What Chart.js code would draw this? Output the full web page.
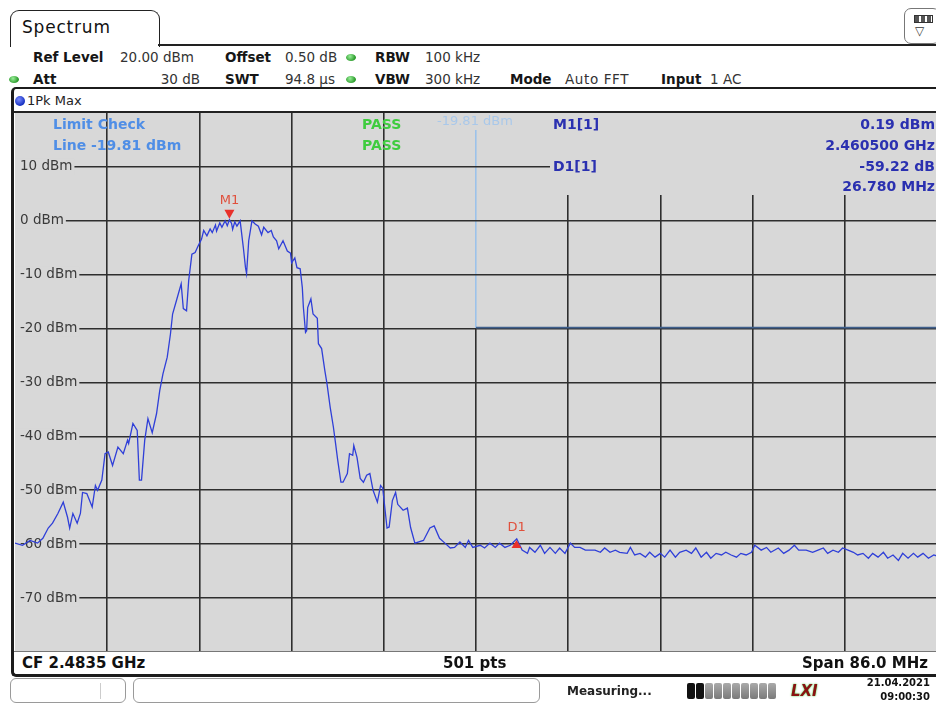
<!DOCTYPE html>
<html>
<head>
<meta charset="utf-8">
<script src="https://cdn.jsdelivr.net/npm/chart.js@4.4.1/dist/chart.umd.min.js"></script>
<style>
  html, body { margin: 0; padding: 0; background: #fff; }
  #screen { position: relative; width: 936px; height: 704px; overflow: hidden; background: #fff;
    font-family: "DejaVu Sans", Verdana, sans-serif; color: #333; }
  .t { position: absolute; white-space: nowrap; line-height: 16px; font-size: 13.5px; }
  .b { font-weight: bold; color: #161616; }
  .line { position: absolute; background: #222; }
  .dot { position: absolute; width: 10px; height: 7px; border-radius: 50%;
    background: radial-gradient(circle at 40% 35%, #9e9, #2a9a2a 70%); }
  #tab { position: absolute; left: 10px; top: 10px; width: 148px; height: 36px; border: 1.5px solid #222;
    border-bottom: none; border-radius: 9px 9px 0 0; background: #fff; }
  #frame { position: absolute; left: 11px; top: 87px; width: 940px; height: 590px; box-sizing: border-box;
    border: 3px solid #1c1c1c; border-top-width: 2px; border-right: none; border-radius: 5px 0 0 5px; }
  #plot { position: absolute; left: 15px; top: 113px; width: 922px; height: 539px; background: #d8d8d8; }
  .lim { color: #4f8ee6; font-weight: bold; font-size: 14px; }
  .pass { color: #3fcc3f; font-weight: bold; font-size: 14px; }
  .mk { color: #2a30b0; font-weight: bold; font-size: 14px; }
  .box { position: absolute; top: 678px; height: 25px; box-sizing: border-box; border: 1px solid #9a9a9a;
    border-radius: 6px; background: #fff; }
  .seg { display: inline-block; width: 8px; height: 16px; margin-right: 1px; border-radius: 2px;
    background: linear-gradient(#aaa, #7a7a7a); }
</style>
</head>
<body>
<div id="screen">
  <!-- tab + header -->
  <div id="tab"></div>
  <div class="t" style="left:22px;top:17px;font-size:17px;line-height:20px;color:#111;letter-spacing:0.8px">Spectrum</div>
  <div class="line" style="left:158px;top:44px;width:780px;height:2px"></div>
  <div style="position:absolute;left:904px;top:8px;width:36px;height:36px;box-sizing:border-box;border:1.5px solid #777;border-radius:7px;background:#fff"></div>
  <div style="position:absolute;left:914px;top:15px;width:17px;height:6px;border:1.5px solid #333;background:repeating-linear-gradient(90deg,#555 0 4px,#fff 4px 6px)"></div>
  <div class="t" style="left:915px;top:23px;font-size:12px;color:#333">▽</div>

  <div class="t b" style="left:33px;top:49px">Ref Level</div>
  <div class="t" style="left:120px;top:49px">20.00 dBm</div>
  <div class="t b" style="left:225px;top:49px">Offset</div>
  <div class="t" style="left:285px;top:49px">0.50 dB</div>
  <div class="dot" style="left:346px;top:54px"></div>
  <div class="t b" style="left:375px;top:49px">RBW</div>
  <div class="t" style="left:425px;top:49px">100 kHz</div>

  <div class="dot" style="left:9px;top:76px"></div>
  <div class="t b" style="left:33px;top:71px">Att</div>
  <div class="t" style="right:736px;top:71px">30 dB</div>
  <div class="t b" style="left:225px;top:71px">SWT</div>
  <div class="t" style="left:285px;top:71px">94.8 µs</div>
  <div class="dot" style="left:346px;top:76px"></div>
  <div class="t b" style="left:375px;top:71px">VBW</div>
  <div class="t" style="left:425px;top:71px">300 kHz</div>
  <div class="t b" style="left:510px;top:71px">Mode</div>
  <div class="t" style="left:565px;top:71px;letter-spacing:0.6px">Auto FFT</div>
  <div class="t b" style="left:661px;top:71px">Input</div>
  <div class="t" style="left:710px;top:71px">1 AC</div>

  <!-- diagram frame -->
  <div id="frame"></div>
  <div style="position:absolute;left:15px;top:96px;width:10px;height:10px;border-radius:50%;background:radial-gradient(circle at 40% 35%,#7b8cff,#1530c0 70%)"></div>
  <div class="t" style="left:27px;top:93px;font-size:13px;color:#222">1Pk Max</div>
  <div class="line" style="left:14px;top:111px;width:924px;height:2px"></div>

  <div id="plot"><canvas id="spec"></canvas></div>

  <!-- limit / marker annotations -->
  <div class="t lim" style="left:53px;top:116px">Limit Check</div>
  <div class="t lim" style="left:53px;top:137px">Line -19.81 dBm</div>
  <div class="t pass" style="left:362px;top:116px">PASS</div>
  <div class="t pass" style="left:362px;top:137px">PASS</div>
  <div class="t" style="left:432px;top:113px;width:90px;height:17px;background:#d8d8d8;color:#a9c8ea;font-size:13px;padding-left:5px;box-sizing:border-box">-19.81 dBm</div>
  <div style="position:absolute;left:550px;top:113px;width:390px;height:82px;background:#d8d8d8"></div>
  <div class="t mk" style="left:553px;top:116px">M1[1]</div>
  <div class="t mk" style="left:553px;top:158px">D1[1]</div>
  <div class="t mk" style="right:1px;top:116px">0.19 dBm</div>
  <div class="t mk" style="right:1px;top:137px">2.460500 GHz</div>
  <div class="t mk" style="right:1px;top:158px">-59.22 dB</div>
  <div class="t mk" style="right:1px;top:178px">26.780 MHz</div>

  <!-- footer -->
  <div style="position:absolute;left:14px;top:651px;width:924px;height:1px;background:#777"></div>
  <div class="t b" style="left:22px;top:654px;font-size:15px;line-height:18px;color:#111">CF 2.4835 GHz</div>
  <div class="t b" style="left:443px;top:654px;font-size:15px;line-height:18px;color:#111">501 pts</div>
  <div class="t b" style="right:8px;top:654px;font-size:15px;line-height:18px;color:#111">Span 86.0 MHz</div>

  <!-- status bar -->
  <div class="box" style="left:10px;width:116px"></div>
  <div style="position:absolute;left:100px;top:683px;width:1px;height:16px;background:#ccc"></div>
  <div class="box" style="left:133px;width:407px"></div>
  <div class="t b" style="left:567px;top:683px;font-size:12px;color:#222">Measuring...</div>
  <div style="position:absolute;left:687px;top:683px;white-space:nowrap;font-size:0">
    <span class="seg" style="background:#111"></span><span class="seg" style="background:#111"></span><span class="seg"></span><span class="seg"></span><span class="seg"></span><span class="seg"></span><span class="seg"></span><span class="seg"></span><span class="seg"></span><span class="seg"></span>
  </div>
  <div class="t" style="left:791px;top:682px;font-size:15px;line-height:18px;font-weight:bold;font-style:italic;color:#8a1212;text-shadow:0 0 2px #3c3">LXI</div>
  <div class="t b" style="right:6px;top:677px;font-size:10px;line-height:12px;color:#111">21.04.2021</div>
  <div class="t b" style="right:6px;top:691px;font-size:10px;line-height:12px;color:#111">09:00:30</div>
</div>

<script>
// trace (frequency in MHz, level in dBm)
const traceFreqMHz = [
  2440.5, 2441.2, 2441.9, 2442.6, 2443.1, 2443.6, 2444.0, 2444.5, 2445.0, 2445.4,
  2445.6, 2445.9, 2446.3, 2446.6, 2446.8, 2447.2, 2447.7, 2448.0, 2448.2, 2448.6,
  2448.9, 2449.2, 2449.6, 2450.1, 2450.6, 2451.0, 2451.1, 2451.5, 2451.9, 2452.1,
  2452.3, 2452.6, 2452.9, 2453.3, 2453.7, 2454.0, 2454.3, 2454.7, 2455.0, 2455.2,
  2455.6, 2456.0, 2456.2, 2456.5, 2456.7, 2457.0, 2457.3, 2457.6, 2457.9, 2458.1,
  2458.4, 2458.7, 2458.9, 2459.2, 2459.3, 2459.6, 2459.8, 2460.1, 2460.3, 2460.5,
  2460.7, 2460.8, 2461.0, 2461.2, 2461.5, 2461.8, 2462.0, 2462.1, 2462.3, 2462.6,
  2462.9, 2463.2, 2463.5, 2463.7, 2464.1, 2464.4, 2464.6, 2464.9, 2465.1, 2465.5,
  2465.9, 2466.2, 2466.3, 2466.6, 2466.8, 2467.1, 2467.3, 2467.4, 2467.6, 2467.7,
  2467.8, 2468.1, 2468.3, 2468.7, 2468.8, 2469.1, 2469.4, 2469.6, 2469.9, 2470.2,
  2470.4, 2470.6, 2470.9, 2471.1, 2471.5, 2471.7, 2472.0, 2472.1, 2472.4, 2472.7,
  2473.0, 2473.3, 2473.6, 2473.9, 2474.3, 2474.6, 2474.8, 2475.2, 2475.4, 2475.7,
  2476.0, 2476.2, 2476.7, 2477.1, 2477.4, 2477.8, 2478.6, 2479.2, 2479.6, 2480.1,
  2480.6, 2481.1, 2481.5, 2482.0, 2482.5, 2482.8, 2483.2, 2483.9, 2484.3, 2484.8,
  2485.3, 2485.7, 2486.2, 2486.7, 2487.3, 2487.8, 2488.3, 2488.5, 2489.0, 2489.5,
  2489.9, 2490.4, 2490.9, 2491.3, 2491.8, 2492.3, 2492.7, 2493.2, 2493.7, 2494.1,
  2494.6, 2495.1, 2495.5, 2496.0, 2496.5, 2496.9, 2497.6, 2497.9, 2498.3, 2498.8,
  2499.3, 2499.7, 2500.2, 2500.7, 2501.1, 2501.6, 2502.1, 2502.5, 2503.1, 2503.6,
  2504.0, 2504.5, 2505.0, 2505.4, 2505.9, 2506.4, 2506.8, 2507.3, 2507.8, 2508.2,
  2508.7, 2509.2, 2509.5, 2510.1, 2510.6, 2511.0, 2511.7, 2512.2, 2512.7, 2513.2,
  2513.6, 2514.3, 2514.9, 2515.4, 2515.9, 2516.3, 2516.8, 2517.3, 2517.7, 2518.2,
  2518.7, 2519.1, 2519.6, 2520.1, 2520.5, 2521.0, 2521.5, 2521.9, 2522.4, 2522.9,
  2523.3, 2523.8, 2524.3, 2524.7, 2525.2, 2525.7, 2526.2, 2526.5
];
const traceLevelDbm = [
  -59.8, -60.2, -59.3, -59.8, -58.9, -57.0, -56.1, -54.3, -52.2, -55.0,
  -57.0, -54.3, -56.1, -54.3, -50.4, -50.6, -53.1, -49.1, -50.0, -48.1,
  -43.2, -42.9, -45.4, -42.0, -43.2, -40.7, -41.3, -37.6, -38.9, -48.1,
  -48.1, -40.7, -36.7, -39.3, -35.8, -31.5, -28.4, -25.3, -21.0, -17.3,
  -14.5, -11.7, -16.3, -16.7, -11.1, -6.2, -5.9, -4.6, -3.4, -1.8,
  -2.8, -1.5, -2.2, -0.8, -1.9, -0.4, -1.2, 0.0, -0.9, 0.19,
  -0.5, -1.6, -0.2, -1.0, 0.0, -5.0, -8.7, -9.8, -3.7, 0.0,
  -0.6, -1.0, -2.6, -1.2, -2.2, -1.8, -3.0, -3.7, -5.2, -3.7,
  -5.6, -6.0, -7.8, -6.9, -8.7, -8.9, -12.4, -16.1, -20.7, -20.4,
  -16.1, -14.5, -17.3, -18.1, -22.8, -23.7, -27.8, -30.2, -34.6, -38.3,
  -41.3, -44.4, -48.5, -48.5, -46.9, -43.2, -43.5, -41.7, -43.9, -47.8,
  -48.5, -47.2, -46.9, -50.0, -52.2, -49.1, -49.6, -57.0, -56.8, -51.9,
  -50.4, -52.6, -53.7, -53.3, -56.9, -59.8, -59.3, -57.0, -56.6, -58.9,
  -59.8, -60.7, -60.6, -59.6, -60.6, -59.3, -60.6, -60.2, -60.7, -59.8,
  -60.6, -59.8, -60.6, -60.2, -59.0, -61.1, -61.7, -60.6, -61.5, -60.2,
  -61.7, -60.6, -61.7, -60.7, -61.7, -59.8, -60.6, -60.6, -61.1, -61.1,
  -61.1, -61.5, -60.7, -61.5, -61.1, -61.5, -61.7, -60.6, -62.0, -61.7,
  -62.4, -61.5, -62.4, -61.7, -62.4, -61.1, -62.4, -61.5, -61.1, -61.7,
  -60.7, -62.4, -61.5, -62.6, -61.7, -62.0, -61.5, -62.0, -62.4, -61.7,
  -62.0, -61.5, -60.2, -61.1, -60.6, -61.5, -60.7, -61.7, -61.1, -60.2,
  -61.1, -61.1, -61.5, -61.1, -60.7, -61.7, -61.1, -61.5, -60.7, -61.1,
  -61.5, -62.0, -61.7, -62.6, -61.7, -62.4, -61.5, -62.6, -62.0, -63.0,
  -61.7, -62.6, -61.7, -62.4, -61.7, -62.6, -62.0, -62.2
];

const startMHz = 2440.5;
const stopMHz = 2526.5;
const xGridMHz = [2449.1, 2457.7, 2466.3, 2474.9, 2483.5, 2492.1, 2500.7, 2509.3, 2517.9];
const yGridDbm = [10, 0, -10, -20, -30, -40, -50, -60, -70];

const limitFreqMHz = [2483.5, 2526.5];
const limitLevelDbm = [-19.81, -19.81];

const markerNames = ['M1', 'D1'];
const markerFreqMHz = [2460.5, 2487.28];
const markerLevelDbm = [0.19, -59.03];

const PLOT_BG = '#d8d8d8';
const GRID = '#2e2e2e';
const LIMIT_VERTICAL = '#9cc2ea';

const toPoints = (xs, ys) => xs.map((x, i) => ({ x, y: ys[i] }));

// centre grid line is light blue above the limit line
const xGridColor = ctx => {
  const chart = ctx.chart;
  const area = chart.chartArea;
  if (!ctx.tick || Math.abs(ctx.tick.value - limitFreqMHz[0]) > 0.01 || !area) return GRID;
  const yPix = chart.scales.y.getPixelForValue(limitLevelDbm[0]);
  const stop = (yPix - area.top) / (area.bottom - area.top);
  const g = chart.ctx.createLinearGradient(0, area.top, 0, area.bottom);
  g.addColorStop(0, LIMIT_VERTICAL);
  g.addColorStop(stop, LIMIT_VERTICAL);
  g.addColorStop(stop, GRID);
  g.addColorStop(1, GRID);
  return g;
};

const markerPlugin = {
  id: 'markers',
  afterDatasetsDraw(chart) {
    const { ctx, scales: { x, y } } = chart;
    ctx.save();
    ctx.font = '13px "DejaVu Sans"';
    ctx.textAlign = 'center';
    ctx.textBaseline = 'middle';
    markerNames.forEach((name, i) => {
      const px = x.getPixelForValue(markerFreqMHz[i]);
      const py = y.getPixelForValue(markerLevelDbm[i]);
      const down = name[0] === 'M';
      ctx.fillStyle = '#e8302a';
      ctx.beginPath();
      if (down) {
        ctx.moveTo(px, py - 1);
        ctx.lineTo(px - 5, py - 10);
        ctx.lineTo(px + 5, py - 10);
      } else {
        ctx.moveTo(px, py + 1);
        ctx.lineTo(px - 5, py + 9);
        ctx.lineTo(px + 5, py + 9);
      }
      ctx.closePath();
      ctx.fill();
      ctx.fillStyle = '#e0503c';
      ctx.fillText(name, px, down ? py - 19 : py - 11);
    });
    ctx.restore();
  },
};

new Chart('spec', {
  type: 'line',
  data: {
    datasets: [
      {
        label: '1Pk Max',
        data: toPoints(traceFreqMHz, traceLevelDbm),
        borderColor: '#2f3fd8',
        borderWidth: 1.3,
        pointRadius: 0,
        tension: 0,
      },
      {
        label: 'Limit',
        data: toPoints(limitFreqMHz, limitLevelDbm),
        borderColor: '#3f5f8c',
        borderWidth: 1.6,
        pointRadius: 0,
      },
    ],
  },
  options: {
    responsive: true,
    maintainAspectRatio: false,
    animation: false,
    events: [],
    layout: { padding: 0 },
    plugins: { legend: { display: false }, tooltip: { enabled: false } },
    scales: {
      x: {
        type: 'linear',
        min: startMHz,
        max: stopMHz,
        afterBuildTicks: s => { s.ticks = xGridMHz.map(v => ({ value: v })); },
        afterFit: s => { s.height = 0; s.paddingLeft = 0; s.paddingRight = 0; },
        ticks: { display: false },
        grid: { color: xGridColor, lineWidth: 1.6, drawTicks: false },
        border: { display: false },
      },
      y: {
        min: -80,
        max: 20,
        afterBuildTicks: s => { s.ticks = yGridDbm.map(v => ({ value: v })); },
        afterFit: s => { s.width = 0; s.paddingTop = 0; s.paddingBottom = 0; },
        ticks: {
          mirror: true,
          padding: 5,
          color: '#3a3a3a',
          font: { family: '"DejaVu Sans"', size: 13.5 },
          callback: v => v + ' dBm',
          showLabelBackdrop: true,
          backdropColor: PLOT_BG,
          backdropPadding: { top: 0, bottom: 0, left: 6, right: 2 },
        },
        grid: { color: GRID, lineWidth: 1.6, drawTicks: false },
        border: { display: false },
      },
    },
  },
  plugins: [markerPlugin],
});
</script>
</body>
</html>
